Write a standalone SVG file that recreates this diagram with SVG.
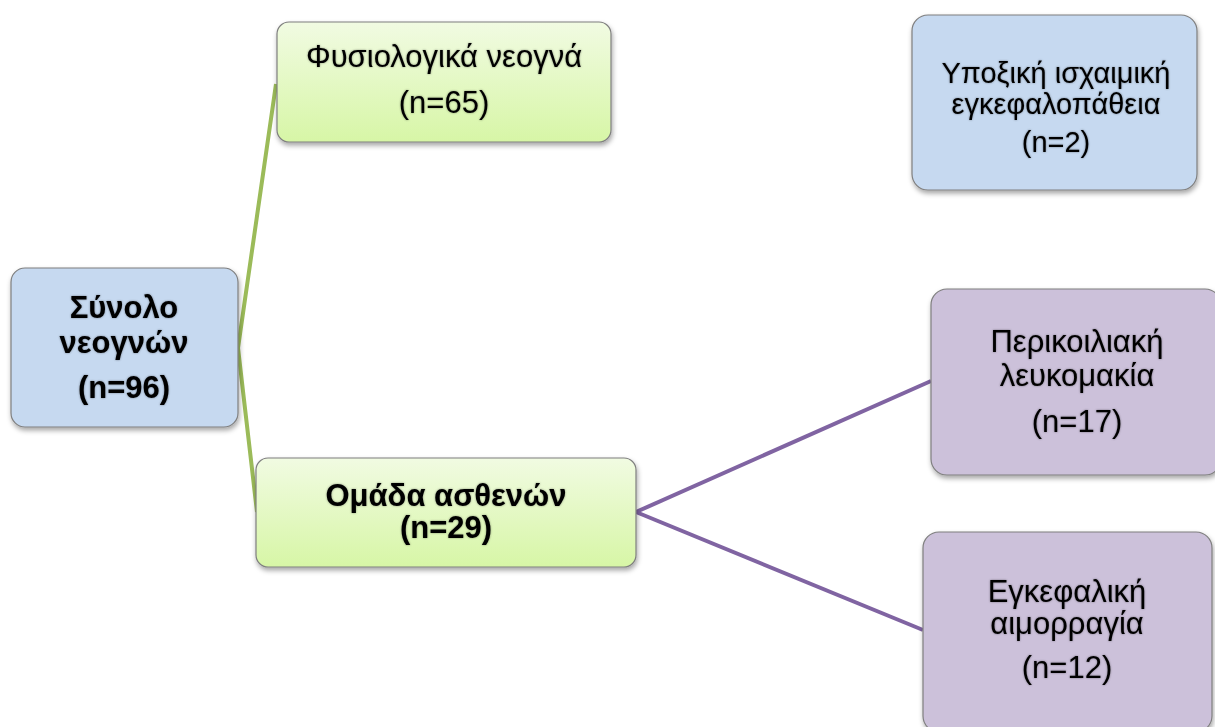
<svg xmlns="http://www.w3.org/2000/svg" width="1215" height="727" viewBox="0 0 1215 727">
<defs>
<linearGradient id="gGreen" x1="0" y1="0" x2="0" y2="1">
<stop offset="0" stop-color="#f1fbe2"/>
<stop offset="1" stop-color="#d7f6a6"/>
</linearGradient>
<filter id="shadow" x="-10%" y="-10%" width="125%" height="130%">
<feDropShadow dx="1" dy="3" stdDeviation="2.5" flood-color="#000" flood-opacity="0.35"/>
</filter>
<filter id="tshadow" x="-5%" y="-20%" width="110%" height="140%">
<feDropShadow dx="0" dy="0" stdDeviation="1.2" flood-color="#000" flood-opacity="0.4"/>
</filter>
</defs>
<style>
.box{stroke:#7f7f7f;stroke-width:1.2;filter:url(#shadow)}
.blue{fill:#c6d9f0}
.green{fill:url(#gGreen)}
.purple{fill:#ccc1da}
text{font-family:"Liberation Sans",Arial,sans-serif;fill:#000;text-anchor:middle;filter:url(#tshadow)}
.b{font-weight:bold;font-size:31px}
.n{font-size:31px}
.s{font-size:29px}
.gl{stroke:#9bbb59;stroke-width:4;fill:none;stroke-linejoin:miter}
.pl{stroke:#8064a2;stroke-width:4;fill:none}
</style>
<rect width="1215" height="727" fill="#fff"/>
<g id="connectors">
<polyline class="gl" points="276,84 238,348 257,512"/>
<line class="pl" x1="636" y1="512" x2="931" y2="381"/>
<line class="pl" x1="636" y1="512" x2="923" y2="630"/>
</g>
<g id="node-total">
<rect class="box blue" x="11" y="268" width="227" height="159" rx="14"/>
<text class="b" x="124" y="318">Σύνολο</text>
<text class="b" x="124" y="353">νεογνών</text>
<text class="b" x="124" y="398">(n=96)</text>
</g>
<g id="node-normal">
<rect class="box green" x="277" y="22" width="334" height="120" rx="12"/>
<text class="n" x="444" y="67">Φυσιολογικά νεογνά</text>
<text class="n" x="444" y="113">(n=65)</text>
</g>
<g id="node-patients">
<rect class="box green" x="256" y="458" width="380" height="109" rx="12"/>
<text class="b" x="446" y="506">Ομάδα ασθενών</text>
<text class="b" x="446" y="538">(n=29)</text>
</g>
<g id="node-hie">
<rect class="box blue" x="912" y="15" width="285" height="175" rx="16"/>
<text class="s" x="1056" y="83">Υποξική ισχαιμική</text>
<text class="s" x="1056" y="114">εγκεφαλοπάθεια</text>
<text class="s" x="1056" y="152">(n=2)</text>
</g>
<g id="node-pvl">
<rect class="box purple" x="931" y="289" width="290" height="186" rx="16"/>
<text class="n" x="1077" y="352">Περικοιλιακή</text>
<text class="n" x="1077" y="386">λευκομακία</text>
<text class="n" x="1077" y="432">(n=17)</text>
</g>
<g id="node-ich">
<rect class="box purple" x="923" y="532" width="289" height="200" rx="16"/>
<text class="n" x="1067" y="602">Εγκεφαλική</text>
<text class="n" x="1067" y="634">αιμορραγία</text>
<text class="n" x="1067" y="678">(n=12)</text>
</g>
</svg>
